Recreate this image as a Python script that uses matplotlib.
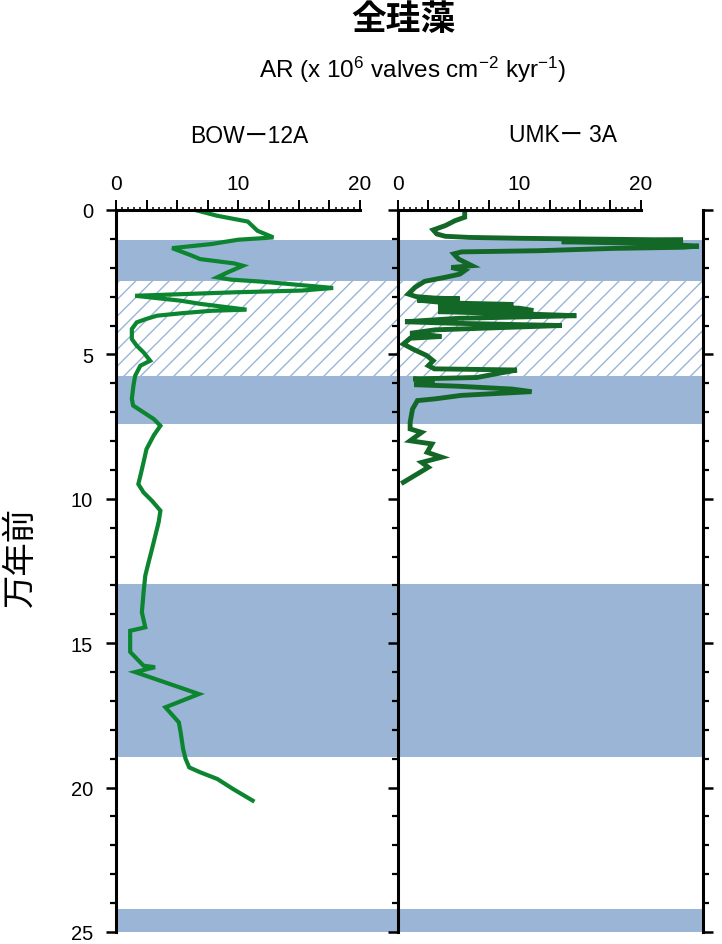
import numpy as np
import matplotlib
matplotlib.use('Agg')
import matplotlib.pyplot as plt
from matplotlib.ticker import MultipleLocator, FixedLocator, FuncFormatter

plt.rcParams['font.family'] = ['Liberation Sans', 'Noto Sans CJK JP']
plt.rcParams['mathtext.default'] = 'regular'
plt.rcParams['hatch.linewidth'] = 1.0

# ages in 10 kyr (万年前), values in 10^6 valves cm-2 kyr-1
bow_age = [0.02, 0.20, 0.40, 0.72, 0.95, 1.03, 1.18, 1.32, 1.56, 1.70, 1.85, 1.93, 2.16, 2.33,
           2.41, 2.48, 2.56, 2.70, 2.79, 2.85, 2.97, 3.14, 3.25, 3.45, 3.49, 3.57, 3.66, 3.77,
           3.89, 4.12, 4.47, 4.70, 4.93, 5.22, 5.39, 5.74, 6.08, 6.54, 6.77, 7.24, 7.47, 7.80,
           8.28, 8.73, 9.20, 9.49, 9.78, 10.07, 10.41, 10.80, 11.28, 11.74, 12.20, 12.66, 13.24,
           13.93, 14.45, 14.57, 15.30, 15.78, 15.83, 16.00, 16.76, 17.22, 17.74, 18.09, 18.66,
           19.00, 19.30, 19.47, 19.70, 20.05, 20.45]
bow_val = [6.67, 8.3, 10.8, 11.6, 12.9, 10.0, 7.8, 4.6, 6.1, 6.9, 9.7, 10.4, 9.15, 8.3,
           9.4, 11.9, 14.1, 17.8, 15.2, 9.7, 1.57, 5.3, 6.9, 10.7, 7.8, 5.5, 3.36, 2.5,
           1.7, 1.3, 1.3, 1.7, 2.26, 2.8, 2.0, 1.57, 1.43, 1.3, 1.4, 3.1, 3.64, 3.1,
           2.5, 2.26, 2.0, 1.83, 2.26, 2.95, 3.64, 3.5, 3.22, 2.95, 2.67, 2.4, 2.26,
           2.12, 2.4, 1.16, 1.16, 2.26, 3.2, 1.57, 6.8, 4.05, 5.15, 5.3, 5.5,
           5.7, 6.0, 6.9, 8.3, 9.6, 11.2]

umk_age = [0.02, 0.25, 0.37, 0.54, 0.69, 0.83, 0.91, 0.95, 0.98, 1.00, 1.04, 1.10, 1.15, 1.25,
           1.29, 1.33, 1.41, 1.45, 1.52, 1.70, 1.93, 1.99, 2.10, 2.22, 2.33, 2.47, 2.68, 2.91,
           3.00, 3.05, 3.08, 3.12, 3.22, 3.27, 3.33, 3.40, 3.48, 3.52, 3.60, 3.66, 3.75, 3.87,
           3.92, 4.00, 4.07, 4.15, 4.27, 4.38, 4.44, 4.64, 4.81, 5.04, 5.22, 5.39, 5.50, 5.54,
           5.68, 5.80, 5.85, 5.91, 6.05, 6.10, 6.20, 6.29, 6.37, 6.42, 6.54, 6.60, 6.89, 7.35,
           7.58, 7.70, 7.99, 8.10, 8.39, 8.56, 8.74, 8.91, 9.43]
umk_val = [5.5, 5.5, 4.7, 3.9, 2.9, 3.2, 3.9, 5.9, 10.2, 14.3, 23.5, 13.5, 20.0, 24.8,
           23.5, 17.7, 11.6, 5.25, 4.6, 5.0, 6.1, 4.4, 5.5, 5.1, 3.9, 2.2, 1.4, 0.85,
           1.5, 3.05, 5.1, 1.6, 4.15, 9.5, 3.3, 10.0, 11.15, 3.3, 10.5, 14.7, 5.0, 0.58,
           4.4, 13.5, 8.55, 3.05, 1.0, 3.6, 1.0, 0.44, 1.2, 2.37, 2.9, 2.5, 3.0, 9.8,
           8.0, 6.5, 1.26, 3.0, 1.35, 4.84, 9.4, 11.0, 7.4, 5.2, 3.05, 1.6, 1.2, 1.0,
           1.0, 1.95, 1.0, 2.8, 2.4, 3.6, 1.95, 2.5, 0.44]

# shaded intervals (age from, age to)
blue_bands = [(1.05, 2.45), (5.75, 7.4), (12.95, 18.95), (24.2, 25.0)]
hatch_bands = [(2.45, 5.75)]

band_color = '#9ab5d5'
bow_color = '#0c8530'
umk_color = '#136727'

fig = plt.figure(figsize=(7.22, 9.45), dpi=100)
ax1 = fig.add_axes([116 / 722, 12 / 945, 282 / 722, 722 / 945])
ax2 = fig.add_axes([398 / 722, 12 / 945, 305 / 722, 722 / 945])


def style_panel(ax, xmax):
    for a0, a1 in blue_bands:
        ax.axhspan(a0, a1, facecolor=band_color, edgecolor='none', zorder=1)
    for a0, a1 in hatch_bands:
        ax.axhspan(a0, a1, facecolor='white', edgecolor=band_color, hatch='//', linewidth=0, zorder=1)
    ax.set_xlim(0, xmax)
    ax.set_ylim(25, 0)
    ax.xaxis.tick_top()
    ax.spines['bottom'].set_visible(False)
    ax.spines['top'].set_bounds(0, 20)
    for s in ax.spines.values():
        s.set_linewidth(2.2)
        s.set_zorder(5)
    ax.xaxis.set_major_locator(FixedLocator(np.arange(0, 20.01, 2.5)))
    ax.xaxis.set_minor_locator(FixedLocator(np.arange(0, 20.01, 0.5)))
    ax.xaxis.set_major_formatter(FuncFormatter(lambda v, p: f'{v:.0f}' if v % 10 == 0 else ''))
    ax.tick_params(axis='x', which='major', length=4.5, width=1.4, pad=8, labelsize=15)
    ax.tick_params(axis='x', which='minor', length=2.5, width=1.1)
    for t in ax.xaxis.get_major_ticks():
        if abs(t.get_loc() % 10) < 1e-6:
            t.tick2line.set_markersize(7)
    ax.yaxis.set_major_locator(MultipleLocator(5))
    ax.yaxis.set_minor_locator(MultipleLocator(1))
    ax.tick_params(axis='y', which='major', length=7.5, width=1.8, labelsize=14.5, pad=9)
    ax.tick_params(axis='y', which='minor', length=4, width=1.6)


style_panel(ax1, 282 / 12.2)
ax1.spines['right'].set_visible(False)
ax1.plot(bow_val, bow_age, color=bow_color, lw=3.0, zorder=3, solid_joinstyle='miter')

style_panel(ax2, 305 / 12.13)
ax2.tick_params(axis='y', which='both', left=True, right=True, labelleft=False, labelright=False)
ax2.plot(umk_val, umk_age, color=umk_color, lw=3.5, zorder=3, solid_joinstyle='miter')

fig.text(0.559, 0.979, '全珪藻', ha='center', va='center', fontsize=25, fontweight='bold',
         family='Noto Sans CJK JP')
fig.text(0.572, 0.918, 'AR (x 10$^{6}$ valves cm$^{-2}$ kyr$^{-1}$)', ha='center', va='baseline',
         fontsize=17.5)
fig.text(0.345, 0.8483, 'BOWー12A', ha='center', va='baseline', fontsize=16.5)
fig.text(0.78, 0.850, 'UMKー 3A', ha='center', va='baseline', fontsize=16.5)
fig.text(0.028, 0.411, '万年前', ha='center', va='center', rotation=90, fontsize=24,
         family='Noto Sans CJK JP')

fig.savefig('out.png', dpi=100)
